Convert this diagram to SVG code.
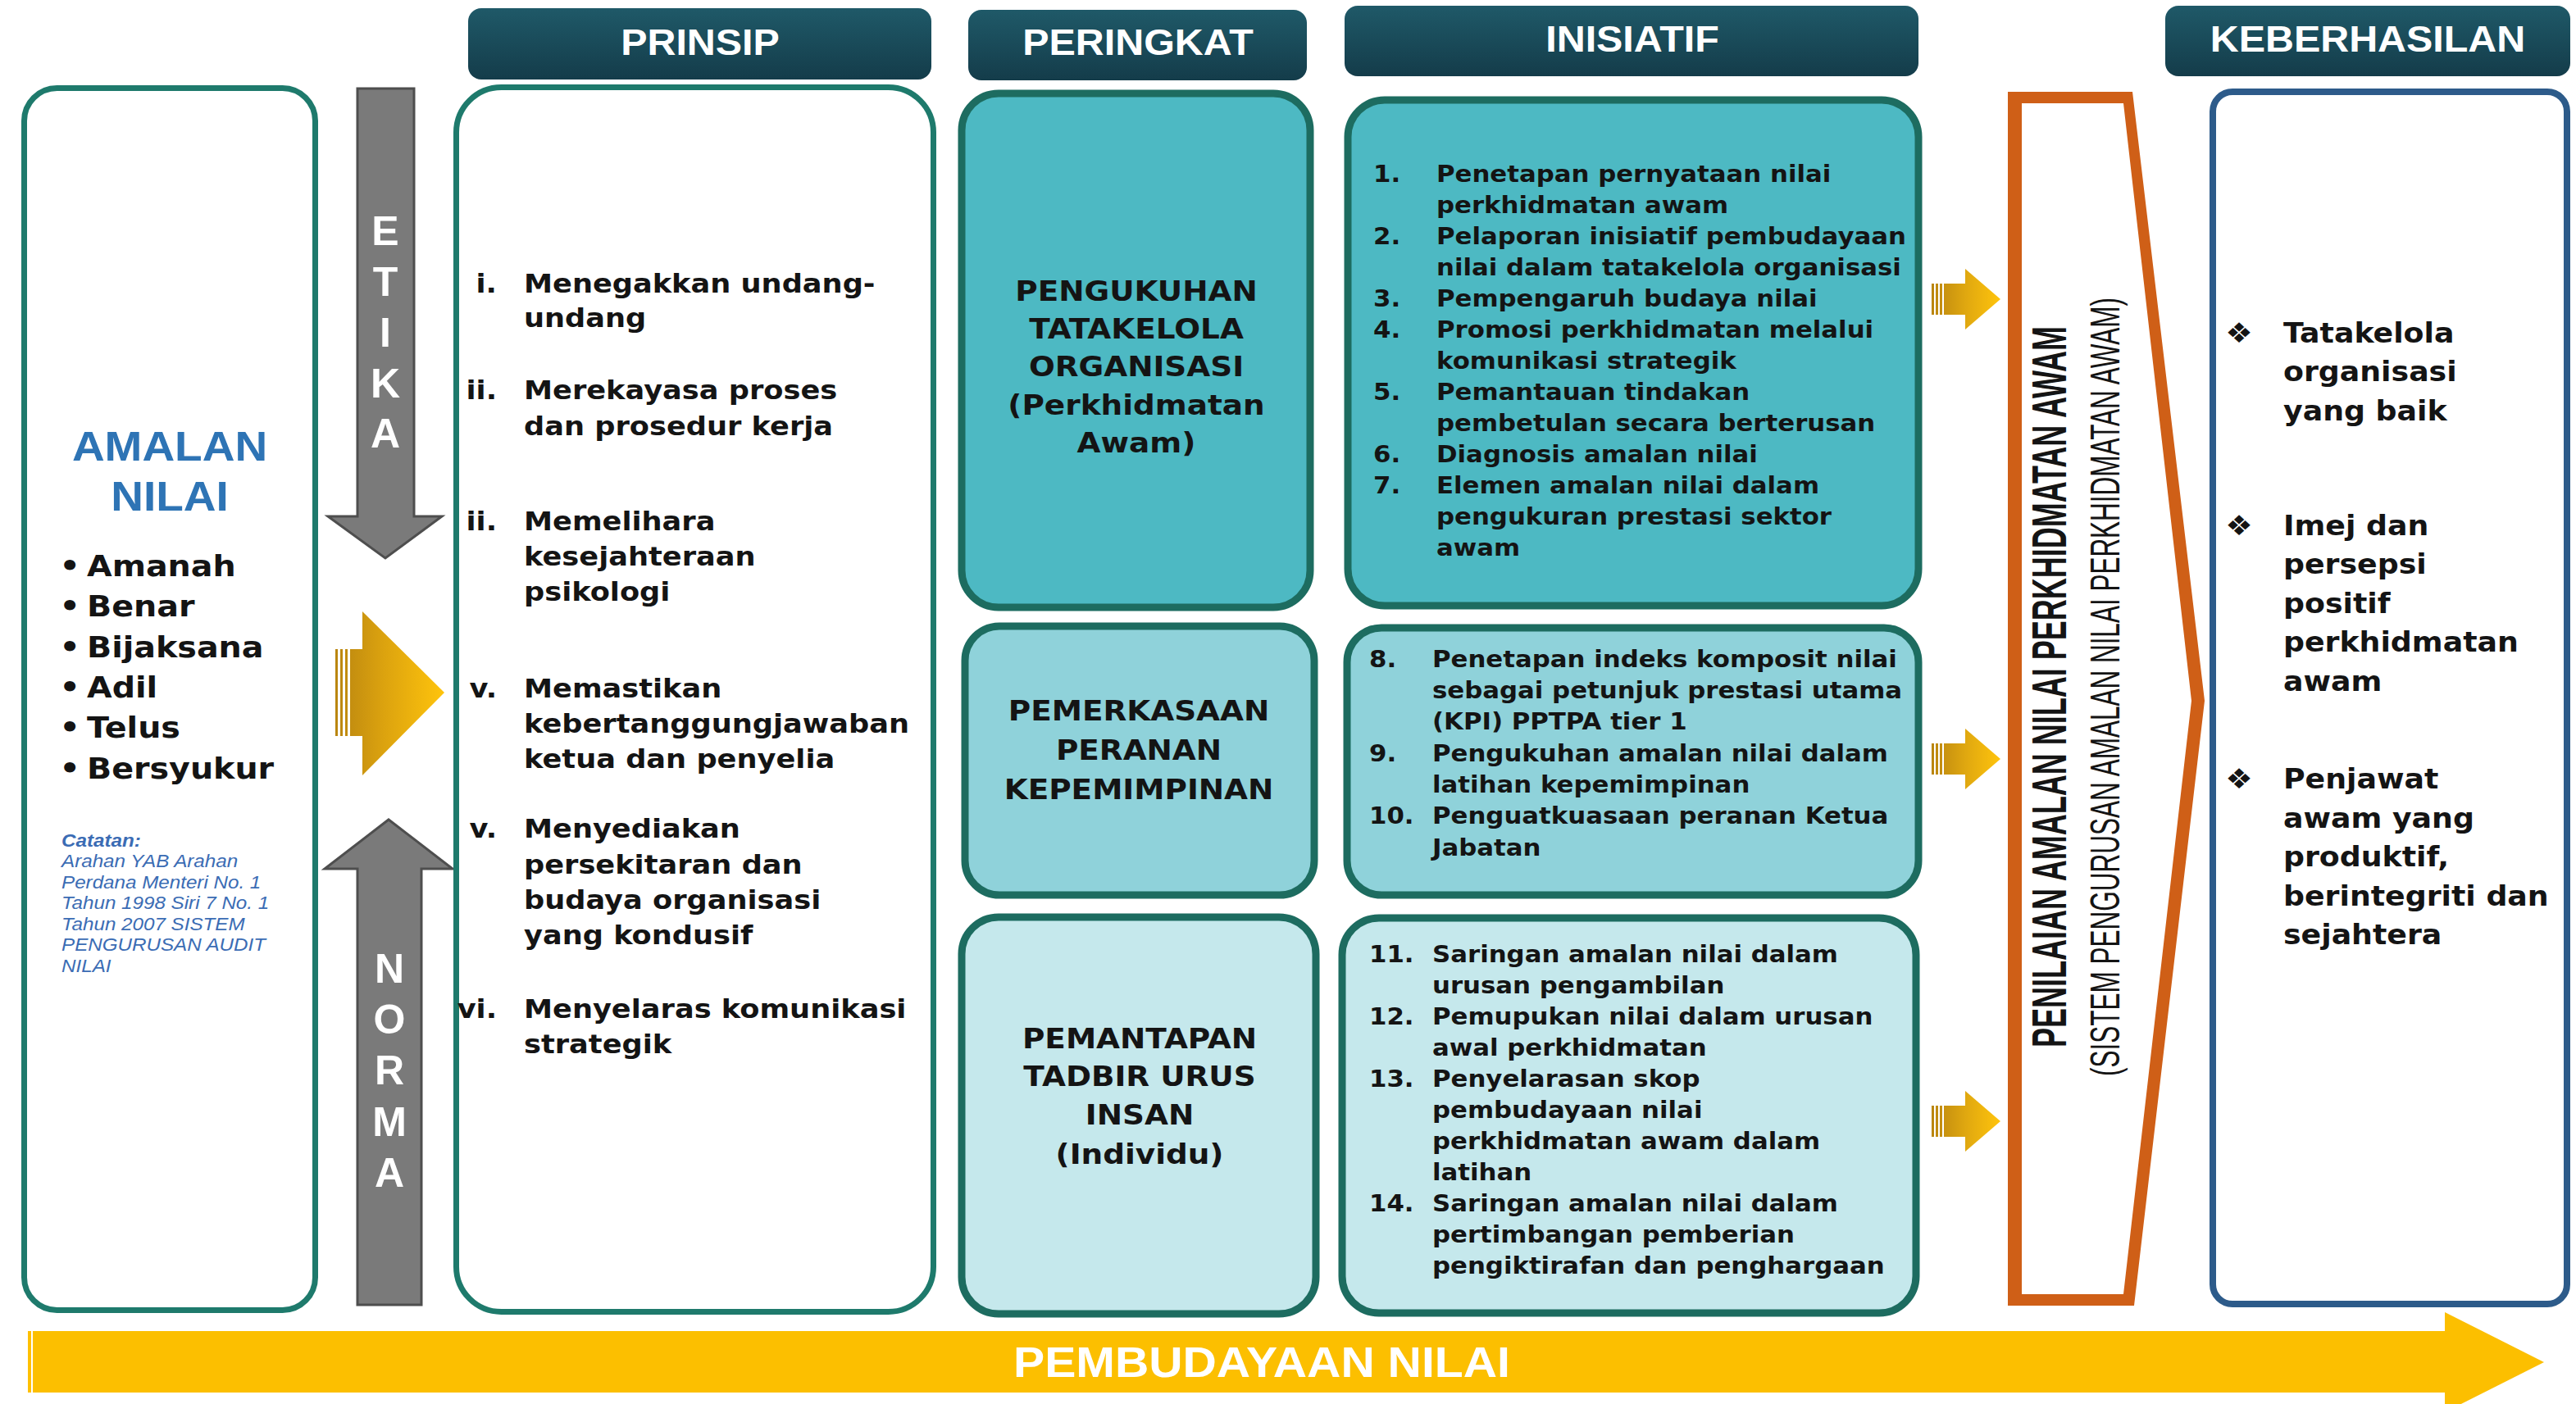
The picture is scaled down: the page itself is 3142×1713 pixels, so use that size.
<svg xmlns="http://www.w3.org/2000/svg" xmlns:xlink="http://www.w3.org/1999/xlink" width="3142" height="1713" viewBox="0 0 3142 1713">
<style>
.hdr{font-family:"Liberation Sans",Arial,sans-serif;font-weight:bold;font-size:44px;fill:#fff;text-anchor:middle}
.b{font-family:"DejaVu Sans",Verdana,sans-serif;font-weight:bold;fill:#141414}
.pr{font-size:32px}
.ini{font-size:28px}
.lvl{font-size:34px;text-anchor:middle}
.kb{font-size:33px}
.val{font-size:36px}
.note{font-family:"Liberation Sans",Arial,sans-serif;font-style:italic;font-size:22px;fill:#3b6cb4}
.amal{font-family:"Liberation Sans",Arial,sans-serif;font-weight:bold;font-size:50px;fill:#2e74b5;text-anchor:middle}
.let{font-family:"Liberation Sans",Arial,sans-serif;font-weight:bold;font-size:50px;fill:#fff;text-anchor:middle}
.hbox{fill:url(#hg)}
.tbox{stroke:#1d6c60;stroke-width:9}
.garrow{fill:#7a7a7a;stroke:#4e4e4e;stroke-width:3}
.vt{font-family:"Liberation Sans",Arial,sans-serif;fill:#141414;text-anchor:middle}
</style>
<defs>
<linearGradient id="hg" x1="0" y1="0" x2="0" y2="1">
<stop offset="0" stop-color="#1f5968"/><stop offset="1" stop-color="#143c4a"/>
</linearGradient>
<linearGradient id="goldS" gradientUnits="userSpaceOnUse" x1="0" y1="0" x2="84" y2="0">
<stop offset="0" stop-color="#b98510"/><stop offset="0.5" stop-color="#e0a810"/><stop offset="1" stop-color="#ffc40c"/>
</linearGradient>
<linearGradient id="goldB" gradientUnits="userSpaceOnUse" x1="409" y1="0" x2="542" y2="0">
<stop offset="0" stop-color="#b98510"/><stop offset="0.45" stop-color="#dca30f"/><stop offset="1" stop-color="#ffc40c"/>
</linearGradient>
<g id="sa" fill="url(#goldS)">
<rect x="0" y="-19" width="3" height="38"/><rect x="5" y="-19" width="3" height="38"/><rect x="10" y="-19" width="3" height="38"/>
<rect x="15" y="-19" width="27" height="38"/>
<polygon points="41,-37 84,0 41,37"/>
</g>
</defs>
<rect width="3142" height="1713" fill="#fff"/>

<g id="headers">
<g id="h-prinsip"><rect class="hbox" x="571" y="10" width="565" height="87" rx="16"/><text class="hdr" transform="translate(854,67) scale(1.1,1)">PRINSIP</text></g>
<g id="h-peringkat"><rect class="hbox" x="1181" y="12" width="413" height="86" rx="16"/><text class="hdr" transform="translate(1388,67) scale(1.1,1)">PERINGKAT</text></g>
<g id="h-inisiatif"><rect class="hbox" x="1640" y="7" width="700" height="86" rx="16"/><text class="hdr" transform="translate(1991,63) scale(1.1,1)">INISIATIF</text></g>
<g id="h-keberhasilan"><rect class="hbox" x="2641" y="7" width="494" height="86" rx="16"/><text class="hdr" transform="translate(2888,63) scale(1.1,1)">KEBERHASILAN</text></g>
</g>

<g id="amalan-nilai">
<rect x="29.5" y="107.5" width="355" height="1491" rx="40" fill="#fff" stroke="#1e7a6c" stroke-width="7"/>
<g transform="translate(207,0) scale(1.1,1)">
<text class="amal" x="0" y="562">AMALAN</text>
<text class="amal" x="0" y="623">NILAI</text>
</g>
<g class="b val" transform="translate(106,0) scale(1.1,1)">
<text x="-19" y="703" text-anchor="middle">•</text><text x="0" y="703">Amanah</text>
<text x="-19" y="752" text-anchor="middle">•</text><text x="0" y="752">Benar</text>
<text x="-19" y="802" text-anchor="middle">•</text><text x="0" y="802">Bijaksana</text>
<text x="-19" y="851" text-anchor="middle">•</text><text x="0" y="851">Adil</text>
<text x="-19" y="900" text-anchor="middle">•</text><text x="0" y="900">Telus</text>
<text x="-19" y="950" text-anchor="middle">•</text><text x="0" y="950">Bersyukur</text>
</g>
<g class="note" transform="translate(75,0) scale(1.1,1)">
<text x="0" y="1033" font-weight="bold">Catatan:</text>
<text x="0" y="1058">Arahan YAB Arahan</text>
<text x="0" y="1084">Perdana Menteri No. 1</text>
<text x="0" y="1109">Tahun 1998 Siri 7 No. 1</text>
<text x="0" y="1135">Tahun 2007 SISTEM</text>
<text x="0" y="1160">PENGURUSAN AUDIT</text>
<text x="0" y="1186">NILAI</text>
</g>
</g>

<g id="etika">
<polygon class="garrow" points="436,108 505,108 505,630 539,630 470,681 400,630 436,630"/>
<text class="let" x="470" y="299">E</text><text class="let" x="470" y="361">T</text><text class="let" x="470" y="423">I</text><text class="let" x="470" y="485">K</text><text class="let" x="470" y="546">A</text>
</g>
<g id="norma">
<polygon class="garrow" points="474,1000 552,1060 514,1060 514,1592 436,1592 436,1060 396,1060"/>
<text class="let" x="475" y="1199">N</text><text class="let" x="475" y="1261">O</text><text class="let" x="475" y="1323">R</text><text class="let" x="475" y="1386">M</text><text class="let" x="475" y="1448">A</text>
</g>

<g id="prinsip">
<rect x="556.5" y="106.5" width="582" height="1494" rx="55" fill="#fff" stroke="#1e7a6c" stroke-width="7"/>
<g class="b pr" transform="translate(639,0) scale(1.1,1)">
<text x="-30" y="357" text-anchor="end">i.</text><text x="0" y="357">Menegakkan undang-</text><text x="0" y="399">undang</text>
<text x="-30" y="487" text-anchor="end">ii.</text><text x="0" y="487">Merekayasa proses</text><text x="0" y="531">dan prosedur kerja</text>
<text x="-30" y="647" text-anchor="end">ii.</text><text x="0" y="647">Memelihara</text><text x="0" y="690">kesejahteraan</text><text x="0" y="733">psikologi</text>
<text x="-30" y="851" text-anchor="end">v.</text><text x="0" y="851">Memastikan</text><text x="0" y="894">kebertanggungjawaban</text><text x="0" y="937">ketua dan penyelia</text>
<text x="-30" y="1022" text-anchor="end">v.</text><text x="0" y="1022">Menyediakan</text><text x="0" y="1066">persekitaran dan</text><text x="0" y="1109">budaya organisasi</text><text x="0" y="1152">yang kondusif</text>
<text x="-30" y="1242" text-anchor="end">vi.</text><text x="0" y="1242">Menyelaras komunikasi</text><text x="0" y="1285">strategik</text>
</g>
</g>

<g id="peringkat-1">
<rect class="tbox" x="1173" y="114" width="425" height="627" rx="45" fill="#4db9c3"/>
<g class="b lvl" transform="translate(1386,0) scale(1.1,1)">
<text x="0" y="367">PENGUKUHAN</text><text x="0" y="413">TATAKELOLA</text><text x="0" y="459">ORGANISASI</text><text x="0" y="506">(Perkhidmatan</text><text x="0" y="552">Awam)</text>
</g>
</g>
<g id="peringkat-2">
<rect class="tbox" x="1177" y="764" width="426" height="328" rx="42" fill="#8fd2da"/>
<g class="b lvl" transform="translate(1389,0) scale(1.1,1)">
<text x="0" y="879">PEMERKASAAN</text><text x="0" y="927">PERANAN</text><text x="0" y="975">KEPEMIMPINAN</text>
</g>
</g>
<g id="peringkat-3">
<rect class="tbox" x="1173" y="1119" width="432" height="484" rx="45" fill="#c5e8ec"/>
<g class="b lvl" transform="translate(1390,0) scale(1.1,1)">
<text x="0" y="1279">PEMANTAPAN</text><text x="0" y="1325">TADBIR URUS</text><text x="0" y="1372">INSAN</text><text x="0" y="1420">(Individu)</text>
</g>
</g>

<g id="inisiatif-1">
<rect class="tbox" x="1644" y="122" width="696" height="617" rx="45" fill="#4db9c3"/>
<g class="b ini" transform="translate(1752,0) scale(1.1,1)">
<text x="-70" y="222">1.</text><text x="0" y="222">Penetapan pernyataan nilai</text><text x="0" y="260">perkhidmatan awam</text>
<text x="-70" y="298">2.</text><text x="0" y="298">Pelaporan inisiatif pembudayaan</text><text x="0" y="336">nilai dalam tatakelola organisasi</text>
<text x="-70" y="374">3.</text><text x="0" y="374">Pempengaruh budaya nilai</text>
<text x="-70" y="412">4.</text><text x="0" y="412">Promosi perkhidmatan melalui</text><text x="0" y="450">komunikasi strategik</text>
<text x="-70" y="488">5.</text><text x="0" y="488">Pemantauan tindakan</text><text x="0" y="526">pembetulan secara berterusan</text>
<text x="-70" y="564">6.</text><text x="0" y="564">Diagnosis amalan nilai</text>
<text x="-70" y="602">7.</text><text x="0" y="602">Elemen amalan nilai dalam</text><text x="0" y="640">pengukuran prestasi sektor</text><text x="0" y="678">awam</text>
</g>
</g>
<g id="inisiatif-2">
<rect class="tbox" x="1643" y="766" width="697" height="326" rx="42" fill="#8fd2da"/>
<g class="b ini" transform="translate(1747,0) scale(1.1,1)">
<text x="-70" y="814">8.</text><text x="0" y="814">Penetapan indeks komposit nilai</text><text x="0" y="852">sebagai petunjuk prestasi utama</text><text x="0" y="890">(KPI) PPTPA tier 1</text>
<text x="-70" y="929">9.</text><text x="0" y="929">Pengukuhan amalan nilai dalam</text><text x="0" y="967">latihan kepemimpinan</text>
<text x="-70" y="1005">10.</text><text x="0" y="1005">Penguatkuasaan peranan Ketua</text><text x="0" y="1044">Jabatan</text>
</g>
</g>
<g id="inisiatif-3">
<rect class="tbox" x="1637" y="1120" width="700" height="482" rx="45" fill="#c5e8ec"/>
<g class="b ini" transform="translate(1747,0) scale(1.1,1)">
<text x="-70" y="1174">11.</text><text x="0" y="1174">Saringan amalan nilai dalam</text><text x="0" y="1212">urusan pengambilan</text>
<text x="-70" y="1250">12.</text><text x="0" y="1250">Pemupukan nilai dalam urusan</text><text x="0" y="1288">awal perkhidmatan</text>
<text x="-70" y="1326">13.</text><text x="0" y="1326">Penyelarasan skop</text><text x="0" y="1364">pembudayaan nilai</text><text x="0" y="1402">perkhidmatan awam dalam</text><text x="0" y="1440">latihan</text>
<text x="-70" y="1478">14.</text><text x="0" y="1478">Saringan amalan nilai dalam</text><text x="0" y="1516">pertimbangan pemberian</text><text x="0" y="1554">pengiktirafan dan penghargaan</text>
</g>
</g>

<g id="penilaian">
<path d="M2449,112 L2601,112 L2689,855 L2603,1593 L2449,1593 Z M2466,126 L2466,1579 L2590,1579 L2673,855 L2590,126 Z" fill="#cf5f17" fill-rule="evenodd"/>
<text class="vt" transform="translate(2520,838) rotate(-90) scale(0.6,1)" x="0" y="0" font-weight="bold" font-size="60">PENILAIAN AMALAN NILAI PERKHIDMATAN AWAM</text>
<text class="vt" transform="translate(2585,838) rotate(-90) scale(0.63,1)" x="0" y="0" font-size="50">(SISTEM PENGURUSAN AMALAN NILAI PERKHIDMATAN AWAM)</text>
</g>

<g id="keberhasilan">
<rect x="2699" y="112" width="432" height="1479" rx="24" fill="#fff" stroke="#2d5b8a" stroke-width="8"/>
<g class="b kb" transform="translate(2785,0) scale(1.1,1)">
<text x="-49" y="418" text-anchor="middle" font-size="34">❖</text><text x="0" y="418">Tatakelola</text><text x="0" y="465">organisasi</text><text x="0" y="513">yang baik</text>
<text x="-49" y="653" text-anchor="middle" font-size="34">❖</text><text x="0" y="653">Imej dan</text><text x="0" y="700">persepsi</text><text x="0" y="748">positif</text><text x="0" y="795">perkhidmatan</text><text x="0" y="843">awam</text>
<text x="-49" y="962" text-anchor="middle" font-size="34">❖</text><text x="0" y="962">Penjawat</text><text x="0" y="1010">awam yang</text><text x="0" y="1057">produktif,</text><text x="0" y="1105">berintegriti dan</text><text x="0" y="1152">sejahtera</text>
</g>
</g>

<g id="connectors">
<g id="arrow-values">
<rect x="409" y="792" width="3" height="106" fill="url(#goldB)"/>
<rect x="415" y="792" width="3" height="106" fill="url(#goldB)"/>
<rect x="421" y="792" width="3" height="106" fill="url(#goldB)"/>
<rect x="427" y="792" width="17" height="106" fill="url(#goldB)"/>
<polygon points="442,746 542,845 442,946" fill="url(#goldB)"/>
</g>
<use xlink:href="#sa" href="#sa" transform="translate(2356,365)"/>
<use xlink:href="#sa" href="#sa" transform="translate(2356,926)"/>
<use xlink:href="#sa" href="#sa" transform="translate(2356,1368)"/>
<g id="arrow-pembudayaan">
<rect x="34" y="1624" width="4" height="75" fill="#ffc000"/>
<rect x="40" y="1624" width="2944" height="75" fill="#fcbf00"/>
<polygon points="2982,1601 3103,1662 2982,1723" fill="#fcbf00"/>
<text transform="translate(1236,1680) scale(1.1,1)" font-family="Liberation Sans, Arial, sans-serif" font-weight="bold" font-size="52" fill="#fff">PEMBUDAYAAN NILAI</text>
</g>
</g>
</svg>
